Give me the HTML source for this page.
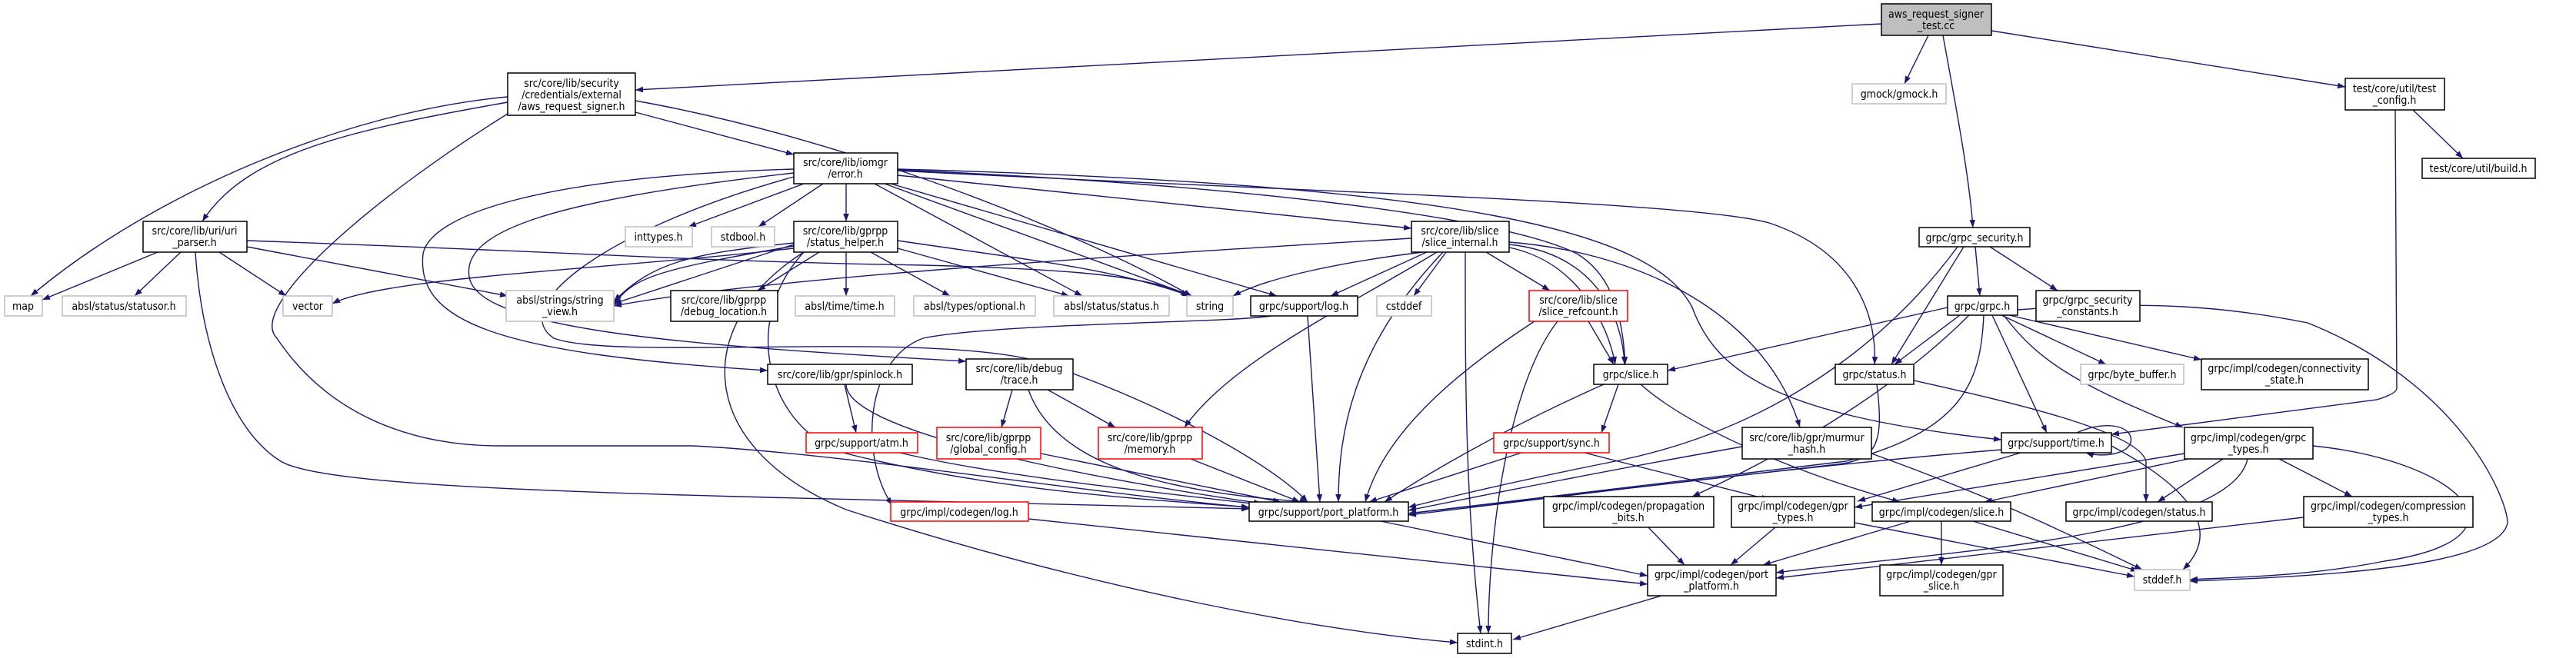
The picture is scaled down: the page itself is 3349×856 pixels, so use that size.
<!DOCTYPE html>
<html><head><meta charset="utf-8"><style>
html,body{margin:0;padding:0;background:#fff;}
svg{display:block;}
text{font-family:"DejaVu Sans Condensed","DejaVu Sans","Liberation Sans",sans-serif;font-size:14px;fill:#000;text-anchor:middle;}
.e{fill:none;stroke:#191970;stroke-width:1.4;marker-end:url(#a);}
.b{fill:#fff;stroke:#000;stroke-width:1.5;}
.g{fill:#fff;stroke:#bfbfbf;stroke-width:1.5;}
.r{fill:#fff;stroke:#ff0000;stroke-width:1.5;}
</style></head><body>
<svg width="3349" height="856" viewBox="0 0 3349 856" xmlns="http://www.w3.org/2000/svg">
<defs><marker id="a" markerUnits="userSpaceOnUse" markerWidth="11" markerHeight="8" refX="10" refY="3.8" orient="auto"><path d="M0,0 L10,3.8 L0,7.6 z" fill="#191970"/></marker></defs>
<g>
<path class="e" d="M2446,31 L826,117"/>
<path class="e" d="M2507,46 L2476,109"/>
<path class="e" d="M2526,46 C2545,150 2560,230 2565,296"/>
<path class="e" d="M2589,40 L3049,113"/>
<path class="e" d="M3137,143 L3202,206"/>
<path class="e" d="M3114,143 L3116,505 Q3116,512 3090,520 L2745,565"/>
<path class="e" d="M660,126 C450,145 200,250 40,385"/>
<path class="e" d="M660,133 C450,170 320,200 263,288"/>
<path class="e" d="M660,148 C480,260 320,400 360,440 C420,530 520,580 650,580 L900,580 C1100,590 1400,640 1624,660"/>
<path class="e" d="M826,131 C1100,180 1400,300 1549,385"/>
<path class="e" d="M826,146 L1032,201"/>
<path class="e" d="M1045,239 L895,295"/>
<path class="e" d="M1070,239 L986,295"/>
<path class="e" d="M1100,239 L1100,288"/>
<path class="e" d="M1137,239 L1407,385"/>
<path class="e" d="M1150,239 L1550,385"/>
<path class="e" d="M1158,239 L1660,385"/>
<path class="e" d="M1167,228 L1835,297"/>
<path class="e" d="M1167,222 C1700,250 2200,262 2300,290 C2420,330 2440,420 2437,474"/>
<path class="e" d="M1167,221 C1600,240 1950,280 2050,330 C2100,360 2110,420 2113,474"/>
<path class="e" d="M1167,220 C1900,240 2150,300 2200,400 C2230,480 2300,540 2602,572"/>
<path class="e" d="M1032,220 C700,230 560,280 550,330 C540,420 650,460 998,482"/>
<path class="e" d="M1032,225 C720,260 600,300 610,360 C620,430 900,450 1256,470"/>
<path class="e" d="M1032,230 C780,300 660,400 720,440 C800,470 1200,430 1350,470 C1500,520 1650,600 1700,653"/>
<path class="e" d="M1032,318 L798,395"/>
<path class="e" d="M1032,316 C900,330 850,340 798,392"/>
<path class="e" d="M1032,320 C860,350 820,360 798,398"/>
<path class="e" d="M1032,323 C800,350 500,360 432,395"/>
<path class="e" d="M1065,328 L985,378"/>
<path class="e" d="M1100,328 L1100,385"/>
<path class="e" d="M1132,328 L1235,385"/>
<path class="e" d="M1167,323 L1390,385"/>
<path class="e" d="M1167,313 C1350,340 1450,350 1547,385"/>
<path class="e" d="M1045,328 C900,420 900,580 1100,663 C1400,760 1700,820 1895,836"/>
<path class="e" d="M1045,328 C960,420 1000,560 1100,590 C1300,640 1500,650 1624,660"/>
<path class="e" d="M205,328 L55,390"/>
<path class="e" d="M235,328 L175,385"/>
<path class="e" d="M285,328 L372,385"/>
<path class="e" d="M321,321 L660,385"/>
<path class="e" d="M321,313 C800,330 900,340 1200,345 C1400,350 1500,360 1545,385"/>
<path class="e" d="M254,328 C262,450 300,560 365,600 C430,640 900,644 1624,662"/>
<path class="e" d="M1835,310 C1500,330 1000,360 798,398"/>
<path class="e" d="M1850,328 C1750,340 1650,360 1603,385"/>
<path class="e" d="M1855,328 L1730,385"/>
<path class="e" d="M1880,328 L1838,385"/>
<path class="e" d="M1932,328 L2015,378"/>
<path class="e" d="M1962,322 C2050,340 2090,420 2100,474"/>
<path class="e" d="M1962,318 C2080,330 2110,420 2112,474"/>
<path class="e" d="M1876,328 C1760,450 1740,560 1740,653"/>
<path class="e" d="M1868,328 C1750,400 1600,470 1540,556"/>
<path class="e" d="M1962,315 C2150,330 2300,420 2340,556"/>
<path class="e" d="M1905,328 C1905,500 1905,650 1925,824"/>
<path class="e" d="M2065,418 L2098,474"/>
<path class="e" d="M1995,418 C1900,480 1800,560 1775,653"/>
<path class="e" d="M2025,418 C1960,500 1935,700 1935,824"/>
<path class="e" d="M1700,411 L1716,653"/>
<path class="e" d="M1652,411 C1600,420 1300,420 1200,440 C1120,470 1120,600 1160,657"/>
<path class="e" d="M1098,500 L1113,563"/>
<path class="e" d="M1100,500 C1100,560 1400,620 1640,655"/>
<path class="e" d="M1170,589 C1300,620 1500,640 1645,657"/>
<path class="e" d="M1316,507 L1302,556"/>
<path class="e" d="M1362,507 L1450,556"/>
<path class="e" d="M1337,507 C1370,600 1500,640 1700,653"/>
<path class="e" d="M1353,590 L1665,653"/>
<path class="e" d="M1548,597 L1690,653"/>
<path class="e" d="M1337,675 L2142,760"/>
<path class="e" d="M1795,678 L2142,749"/>
<path class="e" d="M2160,775 L1967,832"/>
<path class="e" d="M2085,500 C1950,560 1850,620 1800,653"/>
<path class="e" d="M2104,500 L2082,563"/>
<path class="e" d="M2133,500 C2200,560 2350,620 2470,653"/>
<path class="e" d="M1978,589 L1780,653"/>
<path class="e" d="M2060,589 L2300,650"/>
<path class="e" d="M2265,581 C2100,610 1950,640 1831,664"/>
<path class="e" d="M2433,590 C2600,650 2700,700 2785,741"/>
<path class="e" d="M2440,500 C2450,580 2440,600 2380,605 L1831,668"/>
<path class="e" d="M2488,495 C2600,520 2780,560 2790,600 L2790,653"/>
<path class="e" d="M2602,585 C2300,610 2000,650 1831,670"/>
<path class="e" d="M2627,589 L2415,652"/>
<path class="e" d="M2745,580 C2820,620 2900,680 2838,741"/>
<path class="e" d="M2700,563 C2740,545 2775,555 2770,576 C2765,592 2730,595 2712,589"/>
<path class="e" d="M2840,590 L2411,660"/>
<path class="e" d="M2845,597 L2580,653"/>
<path class="e" d="M2890,597 L2805,653"/>
<path class="e" d="M2963,597 L3058,646"/>
<path class="e" d="M3007,580 C3200,600 3300,700 3100,730 C3000,750 2900,751 2847,754"/>
<path class="e" d="M2922,597 C2900,700 2500,720 2309,745"/>
<path class="e" d="M2995,673 L2309,752"/>
<path class="e" d="M2308,686 L2250,735"/>
<path class="e" d="M2411,680 L2775,750"/>
<path class="e" d="M2484,678 L2292,735"/>
<path class="e" d="M2524,678 L2524,735"/>
<path class="e" d="M2565,678 L2780,743"/>
<path class="e" d="M2143,686 L2190,735"/>
<path class="e" d="M2568,321 L2574,385"/>
<path class="e" d="M2587,321 L2675,378"/>
<path class="e" d="M2553,321 L2459,474"/>
<path class="e" d="M2545,321 C2450,450 2300,560 2100,600 C1950,630 1870,650 1831,660"/>
<path class="e" d="M2532,400 L2168,482"/>
<path class="e" d="M2548,410 L2463,474"/>
<path class="e" d="M2579,410 C2575,500 2550,560 2400,600 L1831,668"/>
<path class="e" d="M2590,410 L2661,563"/>
<path class="e" d="M2602,410 L2738,474"/>
<path class="e" d="M2612,410 L2862,468"/>
<path class="e" d="M2605,410 C2650,470 2700,500 2838,556"/>
<path class="e" d="M2623,403 C2800,390 2900,400 3000,420 C3200,500 3260,650 3260,680 C3250,740 3000,750 2847,756"/>
<path class="e" d="M2560,410 C2450,520 2300,600 2200,646"/>
</g>
<g>
<rect x="2446" y="5" width="143" height="41" fill="#bfbfbf" stroke="#000" stroke-width="1.5"/>
<text x="2517" y="23">aws_request_signer</text><text x="2517" y="38">_test.cc</text>

<rect class="b" x="660" y="95" width="166" height="55"/>
<text x="743" y="113">src/core/lib/security</text><text x="743" y="128">/credentials/external</text><text x="743" y="143">/aws_request_signer.h</text>

<rect class="g" x="2408" y="109" width="122" height="26"/><text x="2469" y="127">gmock/gmock.h</text>
<rect class="b" x="3049" y="102" width="129" height="41"/><text x="3113" y="120">test/core/util/test</text><text x="3113" y="135">_config.h</text>
<rect class="b" x="3149" y="206" width="147" height="26"/><text x="3222" y="224">test/core/util/build.h</text>

<rect class="b" x="1032" y="199" width="135" height="40"/><text x="1099" y="216">src/core/lib/iomgr</text><text x="1099" y="231">/error.h</text>
<rect class="b" x="186" y="288" width="135" height="40"/><text x="253" y="305">src/core/lib/uri/uri</text><text x="253" y="320">_parser.h</text>
<rect class="g" x="813" y="295" width="87" height="26"/><text x="856" y="313">inttypes.h</text>
<rect class="g" x="925" y="295" width="82" height="26"/><text x="966" y="313">stdbool.h</text>
<rect class="b" x="1032" y="288" width="135" height="40"/><text x="1099" y="305">src/core/lib/gprpp</text><text x="1099" y="320">/status_helper.h</text>
<rect class="b" x="1835" y="288" width="127" height="40"/><text x="1898" y="305">src/core/lib/slice</text><text x="1898" y="320">/slice_internal.h</text>
<rect class="b" x="2495" y="296" width="144" height="25"/><text x="2567" y="314">grpc/grpc_security.h</text>

<rect class="g" x="6" y="385" width="49" height="26"/><text x="30" y="403">map</text>
<rect class="g" x="81" y="385" width="161" height="26"/><text x="161" y="403">absl/status/statusor.h</text>
<rect class="g" x="368" y="385" width="64" height="26"/><text x="400" y="403">vector</text>
<rect class="g" x="658" y="378" width="140" height="40"/><text x="728" y="395">absl/strings/string</text><text x="728" y="410">_view.h</text>
<rect class="b" x="872" y="378" width="139" height="40"/><text x="941" y="395">src/core/lib/gprpp</text><text x="941" y="410">/debug_location.h</text>
<rect class="g" x="1034" y="385" width="129" height="26"/><text x="1098" y="403">absl/time/time.h</text>
<rect class="g" x="1188" y="385" width="158" height="26"/><text x="1267" y="403">absl/types/optional.h</text>
<rect class="g" x="1370" y="385" width="150" height="26"/><text x="1445" y="403">absl/status/status.h</text>
<rect class="g" x="1543" y="385" width="60" height="26"/><text x="1573" y="403">string</text>
<rect class="b" x="1626" y="385" width="139" height="26"/><text x="1695" y="403">grpc/support/log.h</text>
<rect class="g" x="1790" y="385" width="71" height="26"/><text x="1825" y="403">cstddef</text>
<rect class="r" x="1988" y="378" width="128" height="40"/><text x="2052" y="395">src/core/lib/slice</text><text x="2052" y="410">/slice_refcount.h</text>
<rect class="b" x="2532" y="385" width="91" height="25"/><text x="2577" y="403">grpc/grpc.h</text>
<rect class="b" x="2647" y="378" width="135" height="40"/><text x="2714" y="395">grpc/grpc_security</text><text x="2714" y="410">_constants.h</text>

<rect class="b" x="998" y="474" width="188" height="26"/><text x="1092" y="492">src/core/lib/gpr/spinlock.h</text>
<rect class="b" x="1256" y="467" width="139" height="40"/><text x="1325" y="484">src/core/lib/debug</text><text x="1325" y="499">/trace.h</text>
<rect class="b" x="2072" y="474" width="96" height="26"/><text x="2120" y="492">grpc/slice.h</text>
<rect class="b" x="2386" y="474" width="102" height="26"/><text x="2437" y="492">grpc/status.h</text>
<rect class="g" x="2705" y="474" width="134" height="26"/><text x="2772" y="492">grpc/byte_buffer.h</text>
<rect class="b" x="2862" y="467" width="217" height="40"/><text x="2970" y="484">grpc/impl/codegen/connectivity</text><text x="2970" y="499">_state.h</text>

<rect class="r" x="1048" y="563" width="145" height="26"/><text x="1120" y="581">grpc/support/atm.h</text>
<rect class="r" x="1218" y="556" width="135" height="41"/><text x="1285" y="574">src/core/lib/gprpp</text><text x="1285" y="589">/global_config.h</text>
<rect class="r" x="1428" y="556" width="135" height="41"/><text x="1495" y="574">src/core/lib/gprpp</text><text x="1495" y="589">/memory.h</text>
<rect class="r" x="1942" y="563" width="150" height="26"/><text x="2017" y="581">grpc/support/sync.h</text>
<rect class="b" x="2265" y="556" width="168" height="41"/><text x="2349" y="574">src/core/lib/gpr/murmur</text><text x="2349" y="589">_hash.h</text>
<rect class="b" x="2602" y="563" width="143" height="26"/><text x="2673" y="581">grpc/support/time.h</text>
<rect class="b" x="2840" y="556" width="167" height="41"/><text x="2923" y="574">grpc/impl/codegen/grpc</text><text x="2923" y="589">_types.h</text>

<rect class="r" x="1158" y="653" width="179" height="25"/><text x="1247" y="671">grpc/impl/codegen/log.h</text>
<rect class="b" x="1624" y="653" width="207" height="25"/><text x="1727" y="671">grpc/support/port_platform.h</text>
<rect class="b" x="2007" y="646" width="221" height="40"/><text x="2117" y="663">grpc/impl/codegen/propagation</text><text x="2117" y="678">_bits.h</text>
<rect class="b" x="2251" y="646" width="160" height="40"/><text x="2331" y="663">grpc/impl/codegen/gpr</text><text x="2331" y="678">_types.h</text>
<rect class="b" x="2434" y="653" width="180" height="25"/><text x="2524" y="671">grpc/impl/codegen/slice.h</text>
<rect class="b" x="2686" y="653" width="190" height="25"/><text x="2781" y="671">grpc/impl/codegen/status.h</text>
<rect class="b" x="2995" y="646" width="220" height="40"/><text x="3105" y="663">grpc/impl/codegen/compression</text><text x="3105" y="678">_types.h</text>

<rect class="b" x="2142" y="735" width="167" height="40"/><text x="2225" y="752">grpc/impl/codegen/port</text><text x="2225" y="767">_platform.h</text>
<rect class="b" x="2444" y="735" width="160" height="40"/><text x="2524" y="752">grpc/impl/codegen/gpr</text><text x="2524" y="767">_slice.h</text>
<rect class="g" x="2775" y="741" width="72" height="27"/><text x="2811" y="759">stddef.h</text>
<rect class="b" x="1895" y="824" width="70" height="26"/><text x="1930" y="842">stdint.h</text>
</g>
</svg>
</body></html>
